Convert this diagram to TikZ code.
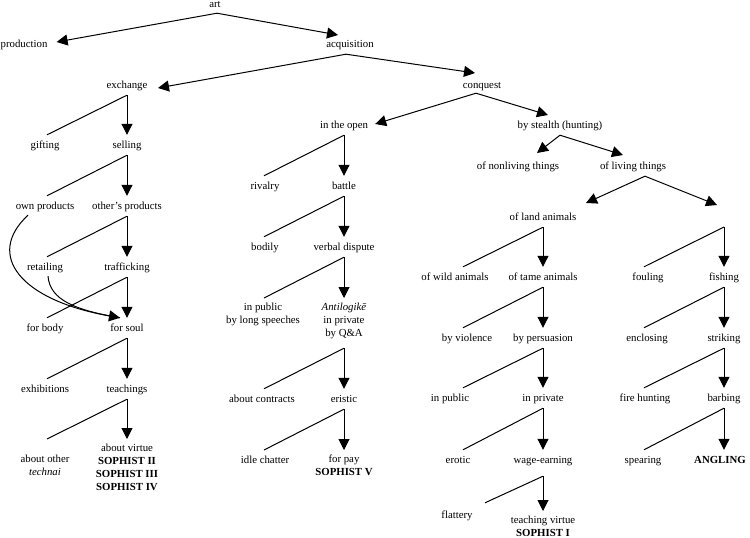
\documentclass[tikz,border=0pt]{standalone}
\usepackage{fontspec}
\setmainfont{Liberation Serif}
\usetikzlibrary{arrows.meta,calc}
\begin{document}
\begin{tikzpicture}[x=1pt,y=-1pt,
  lbl/.style={inner xsep=1pt, inner ysep=5pt, text height=8pt, text depth=2pt, font=\fontsize{10.8}{13}\selectfont},
  mlbl/.style={inner xsep=1pt, inner ysep=5pt, align=center, anchor=north, font=\fontsize{10.8}{13}\selectfont},
  arr/.style={-{Triangle[length=11pt,width=11pt]}, line width=1pt},
  ln/.style={line width=1pt}]
\useasboundingbox (0,0) rectangle (750,538);

% top levels
\node[lbl] (art) at (215,5) {art};
\node[lbl] (production) at (24,44) {production};
\node[lbl] (acquisition) at (350,44) {acquisition};
\node[lbl] (exchange) at (127,85) {exchange};
\node[lbl] (conquest) at (482,85) {conquest};
\node[lbl] (inopen) at (344,125) {in the open};
\node[lbl] (stealth) at (560,125) {by stealth (hunting)};
\node[lbl] (nonliving) at (518,166) {of nonliving things};
\node[lbl] (living) at (633,166) {of living things};
\node[lbl] (land) at (543,217) {of land animals};
\coordinate (grp) at (724,217);

% left column
\node[lbl] (gifting) at (45,145) {gifting};
\node[lbl] (selling) at (127,145) {selling};
\node[lbl] (own) at (45,206) {own products};
\node[lbl] (others) at (127,206) {other's products};
\node[lbl] (retail) at (45,267) {retailing};
\node[lbl] (traffic) at (127,267) {trafficking};
\node[lbl] (forbody) at (45,328) {for body};
\node[lbl] (forsoul) at (127,328) {for soul};
\node[lbl] (exhib) at (45,389) {exhibitions};
\node[lbl] (teach) at (127,389) {teachings};
\node[mlbl] (aboutother) at (45,450) {about other\\\textit{technai}};
\node[mlbl] (aboutvirtue) at (127,439) {about virtue\\\textbf{SOPHIST II}\\\textbf{SOPHIST III}\\\textbf{SOPHIST IV}};

% middle column
\node[lbl] (rivalry) at (265,186) {rivalry};
\node[lbl] (battle) at (344,186) {battle};
\node[lbl] (bodily) at (265,247) {bodily};
\node[lbl] (verbal) at (344,247) {verbal dispute};
\node[mlbl] (inpublic) at (263,298) {in public\\by long speeches};
\node[mlbl] (antil) at (344,298) {\textit{Antilogikē}\\in private\\by Q\&A};
\node[lbl] (contracts) at (262,399) {about contracts};
\node[lbl] (eristic) at (344,399) {eristic};
\node[lbl] (idle) at (265,460) {idle chatter};
\node[mlbl] (forpay) at (344,450) {for pay\\\textbf{SOPHIST V}};

% land animals column
\node[lbl] (wild) at (455,277) {of wild animals};
\node[lbl] (tame) at (543,277) {of tame animals};
\node[lbl] (violence) at (467,338) {by violence};
\node[lbl] (persuasion) at (543,338) {by persuasion};
\node[lbl] (inpublicb) at (450,398) {in public};
\node[lbl] (private) at (543,398) {in private};
\node[lbl] (erotic) at (458,460) {erotic};
\node[lbl] (wage) at (543,460) {wage-earning};
\node[lbl] (flattery) at (457,515) {flattery};
\node[mlbl] (teachv) at (543,511) {teaching virtue\\\textbf{SOPHIST I}};

% fishing column
\node[lbl] (fouling) at (648,277) {fouling};
\node[lbl] (fishing) at (724,277) {fishing};
\node[lbl] (enclosing) at (647,338) {enclosing};
\node[lbl] (striking) at (724,338) {striking};
\node[lbl] (fire) at (645,398) {fire hunting};
\node[lbl] (barbing) at (724,398) {barbing};
\node[lbl] (spearing) at (643,460) {spearing};
\node[lbl] (angling) at (720,460) {\textbf{ANGLING}};

% top arrows
\draw[arr] ($(art.south)+(2,-2)$) -- ($(production.east)+(8,-2)$);
\draw[arr] ($(art.south)+(2,-2)$) -- ($(acquisition.center)+(-12,-9)$);
\draw[arr] ($(acquisition.south)+(-4,0)$) -- ($(exchange.center)+(31,3)$);
\draw[arr] ($(acquisition.south)+(-4,0)$) -- ($(conquest.center)+(-7,-12)$);
\draw[arr] ($(conquest.south)+(-6,-2)$) -- ($(inopen.east)+(6,-1)$);
\draw[arr] ($(conquest.south)+(-6,-2)$) -- ($(stealth.center)+(-12,-10)$);
\draw[arr] (stealth.south) -- ($(nonliving.center)+(19,-13)$);
\draw[arr] (stealth.south) -- ($(living.center)+(-10,-11)$);
\draw[arr] ($(living.south)+(12,0)$) -- ($(land.center)+(43,-14)$);
\draw[arr] ($(living.south)+(12,0)$) -- ($(grp)+(-7,-12)$);

% split below the unlabeled group
\draw[ln] ($(grp)+(0,10)$) -- ($(grp |- fishing.north)+(-80,0)$);
\draw[arr] ($(grp)+(0,10)$) -- (grp |- fishing.north);

% binary splits
\foreach \p/\l/\r in {exchange/gifting/selling, selling/own/others, others/retail/traffic,
  traffic/forbody/forsoul, forsoul/exhib/teach, teach/aboutother/aboutvirtue,
  inopen/rivalry/battle, battle/bodily/verbal, verbal/inpublic/antil, eristic/idle/forpay,
  land/wild/tame, tame/violence/persuasion, persuasion/inpublicb/private, private/erotic/wage,
  fishing/enclosing/striking, striking/fire/barbing, barbing/spearing/angling}{
  \draw[ln] (\p.south) -- ($(\p.south |- \r.north)+(-80,0)$);
  \draw[arr] (\p.south) -- (\p.south |- \r.north);
}
% Antilogike split (taller parent)
\draw[ln] ($(antil.south)+(0,4)$) -- ($(antil.south |- eristic.north)+(-80,0)$);
\draw[arr] ($(antil.south)+(0,4)$) -- (antil.south |- eristic.north);
% wage-earning split
\draw[ln] ($(wage.south)+(0,6)$) -- ($(wage.south |- flattery.north)+(-58,-2)$);
\draw[arr] ($(wage.south)+(0,6)$) -- (wage.south |- teachv.north);

% curved connectors to "for soul"
\draw[ln] ($(retail.south)+(3,-1)$) .. controls (50,300) and (75,310) .. ($(forsoul.north)+(-7,0)$);
\draw[arr] ($(own.south)+(-17,-1)$) .. controls (-15,255) and (20,300) .. ($(forsoul.north)+(-7,0)$);
\end{tikzpicture}
\end{document}
